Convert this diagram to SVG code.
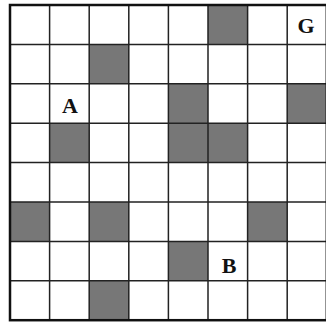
<svg xmlns="http://www.w3.org/2000/svg" width="326" height="322" viewBox="0 0 326 322">
<style>
.cell{fill:#777777}
.grid{stroke:#222;stroke-width:1.5;fill:none}
.border{stroke:#111;stroke-width:2.5;fill:none}
.lbl{font-family:"Liberation Serif",serif;font-weight:bold;font-size:22px;fill:#111;text-anchor:middle}
</style>
<rect x="0" y="0" width="326" height="322" fill="#ffffff"/>
<g id="cells">
<rect class="cell" x="208" y="5" width="39.6" height="39.4"/>
<rect class="cell" x="89.2" y="44.4" width="39.6" height="39.4"/>
<rect class="cell" x="168.4" y="83.8" width="39.6" height="39.4"/>
<rect class="cell" x="287.2" y="83.8" width="39.6" height="39.4"/>
<rect class="cell" x="49.6" y="123.2" width="39.6" height="39.4"/>
<rect class="cell" x="168.4" y="123.2" width="39.6" height="39.4"/>
<rect class="cell" x="208" y="123.2" width="39.6" height="39.4"/>
<rect class="cell" x="10" y="202" width="39.6" height="39.4"/>
<rect class="cell" x="89.2" y="202" width="39.6" height="39.4"/>
<rect class="cell" x="247.6" y="202" width="39.6" height="39.4"/>
<rect class="cell" x="168.4" y="241.4" width="39.6" height="39.4"/>
<rect class="cell" x="89.2" y="280.8" width="39.6" height="39.4"/>
</g>
<g id="grid" class="grid">
<path d="M49.6 5V320.2M89.2 5V320.2M128.8 5V320.2M168.4 5V320.2M208 5V320.2M247.6 5V320.2M287.2 5V320.2M10 44.4H326M10 83.8H326M10 123.2H326M10 162.6H326M10 202H326M10 241.4H326M10 280.8H326"/>
</g>
<rect id="border" class="border" x="10" y="5" width="316.8" height="315.2"/>
<g id="labels">
<text class="lbl" x="70" y="113">A</text>
<text class="lbl" x="306" y="33">G</text>
<text class="lbl" x="229" y="273">B</text>
</g>
</svg>
